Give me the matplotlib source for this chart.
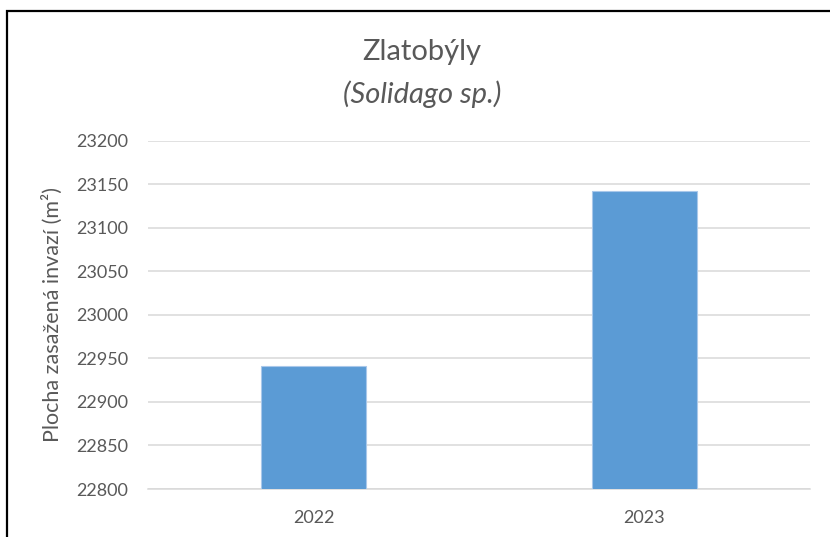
import matplotlib
matplotlib.use("Agg")
import matplotlib.pyplot as plt
from matplotlib.patches import Rectangle

# data
years = ["2022", "2023"]
area = [22941, 23142]
yticks = [22800, 22850, 22900, 22950, 23000, 23050, 23100, 23150, 23200]

plt.rcParams['font.family'] = ['Lato', 'DejaVu Sans']
grey = "#595959"

W, H = 830, 537
fig = plt.figure(figsize=(W / 100, H / 100), dpi=100)
ax = fig.add_axes([148 / W, 48 / H, 662 / W, 348.5 / H])

x = range(len(years))
ax.bar(x, area, width=0.315, color="#5b9bd5", edgecolor="#a9c8ea",
       linewidth=0.8, zorder=3)
ax.set_xlim(-0.5, len(years) - 0.5)
ax.set_ylim(yticks[0], yticks[-1])
ax.set_xticks(list(x))
ax.set_xticklabels(years)
ax.set_yticks(yticks)

ax.grid(axis='y', color="#d9d9d9", linewidth=1.1, zorder=0)
for s in ['top', 'right', 'left']:
    ax.spines[s].set_visible(False)
ax.spines['bottom'].set_color("#d9d9d9")
ax.spines['bottom'].set_linewidth(1.1)
ax.tick_params(axis='both', length=0, labelsize=13, labelcolor=grey)
ax.tick_params(axis='x', pad=15)
ax.tick_params(axis='y', pad=14)

ax.set_ylabel("Plocha zasažená invazí (m²)", fontsize=15.5, color=grey,
              labelpad=10)

fig.text(422 / W, 1 - 52 / H, "Zlatobýly", ha='center', va='center',
         fontsize=21, color=grey)
fig.text(422 / W, 1 - 94 / H, "(Solidago sp.)", ha='center', va='center',
         fontsize=21, color=grey, fontstyle='italic')

# outer frame of the chart object
fig.patches.append(Rectangle((7 / W, -0.1), 1.1, 1.1 - 11 / H,
                             transform=fig.transFigure, fill=False,
                             edgecolor='black', linewidth=1.6))

fig.savefig("out.png", dpi=100)
